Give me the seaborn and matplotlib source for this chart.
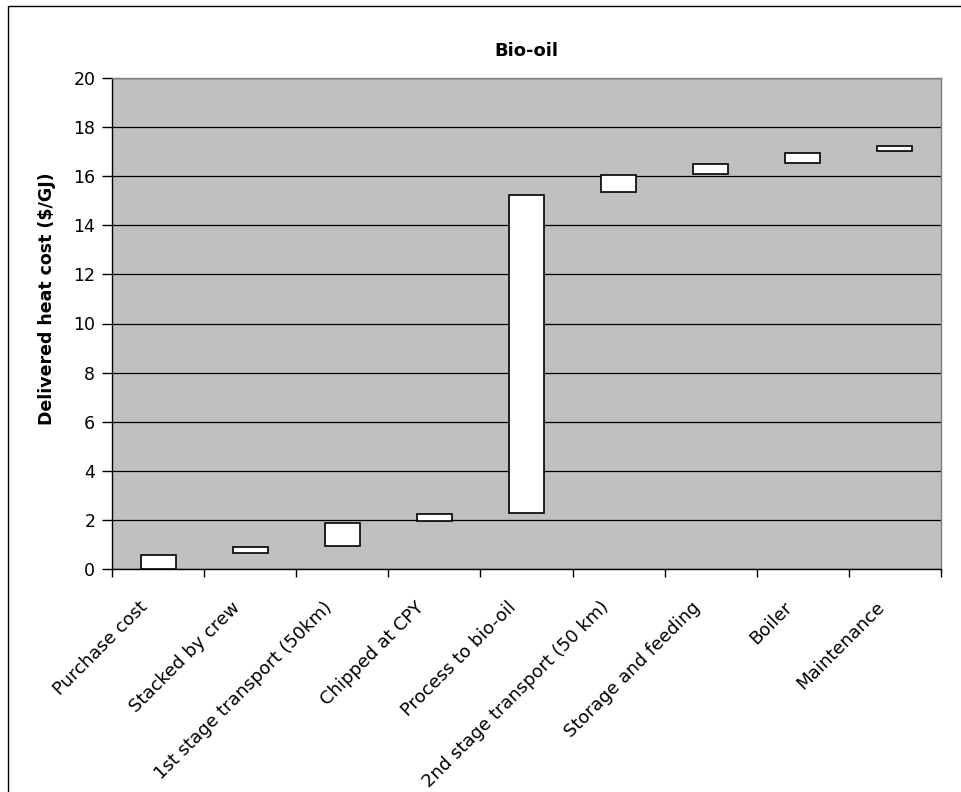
import matplotlib
matplotlib.use("Agg")
import matplotlib.pyplot as plt
from matplotlib.patches import Rectangle
import seaborn as sns
import pandas as pd

# Cost chain for bio-oil delivered heat ($/GJ): each step floats from its start to its end
stages = [
    "Purchase cost",
    "Stacked by crew",
    "1st stage transport (50km)",
    "Chipped at CPY",
    "Process to bio-oil",
    "2nd stage transport (50 km)",
    "Storage and feeding",
    "Boiler",
    "Maintenance",
]
step_start = [0.00, 0.64, 0.95, 1.96, 2.27, 15.35, 16.10, 16.55, 17.01]
step_end = [0.57, 0.88, 1.89, 2.23, 15.23, 16.06, 16.50, 16.96, 17.23]
y_ticks = [0, 2, 4, 6, 8, 10, 12, 14, 16, 18, 20]

df = pd.DataFrame({
    "stage": stages,
    "start": step_start,
    "step": [e - s for s, e in zip(step_start, step_end)],
})

sns.set_theme(style="white")
plt.rcParams["font.family"] = ["DejaVu Sans"]
plt.rcParams["text.color"] = "black"
plt.rcParams["axes.labelcolor"] = "black"
plt.rcParams["xtick.color"] = "black"
plt.rcParams["ytick.color"] = "black"

fig = plt.figure(figsize=(9.62, 7.92), dpi=100)
ax = fig.add_axes([112 / 962, 1 - 569 / 792, (941 - 112) / 962, (569 - 78) / 792])
ax.set_facecolor("#C0C0C0")

sns.barplot(data=df, x="stage", y="step", order=stages, color="white",
            edgecolor="black", linewidth=1.2, width=0.38, saturation=1,
            ax=ax, zorder=3)

# lift each bar so it floats from its start value
for patch, base in zip(ax.patches, df["start"]):
    patch.set_y(base)

ax.set_ylim(0, 20)
ax.set_xlim(-0.5, len(stages) - 0.5)
ax.set_yticks(y_ticks)
ax.set_yticklabels([str(t) for t in y_ticks], fontsize=12.5)
ax.yaxis.grid(True, color="black", linewidth=0.9, zorder=1)
ax.set_axisbelow(True)

# category ticks sit on the boundaries between stages;
# the slanted names hang just left of each category centre
label_nudge = -0.21
ax.set_xticks([i - 0.5 for i in range(len(stages) + 1)], minor=False)
ax.set_xticklabels([""] * (len(stages) + 1))
ax.set_xticks([i + label_nudge for i in range(len(stages))], minor=True)
ax.set_xticklabels(stages, minor=True, rotation=45, ha="right", va="top",
                   rotation_mode="anchor", fontsize=13)
ax.tick_params(axis="x", which="minor", length=0, pad=21)
ax.tick_params(axis="x", which="major", length=6, width=1, color="black",
               direction="out", bottom=True)
ax.tick_params(axis="y", length=7, width=1, color="black", direction="out",
               left=True, pad=5)

for side in ["left", "bottom"]:
    ax.spines[side].set_color("black")
    ax.spines[side].set_linewidth(1.0)
for side in ["top", "right"]:
    ax.spines[side].set_color("#808080")
    ax.spines[side].set_linewidth(1.0)

ax.set_xlabel("")
ax.set_ylabel("Delivered heat cost ($/GJ)", fontsize=12.5, fontweight="bold")
ax.yaxis.set_label_coords(-0.067, 0.55)
ax.set_title("Bio-oil", fontsize=13, fontweight="bold", pad=16)

# chart frame
fig.patches.append(Rectangle((8 / 962, -0.05), 1.2, 1 - 6 / 792 + 0.05,
                             transform=fig.transFigure, fill=False,
                             edgecolor="black", linewidth=1.0))

fig.savefig("out.png", dpi=100)
